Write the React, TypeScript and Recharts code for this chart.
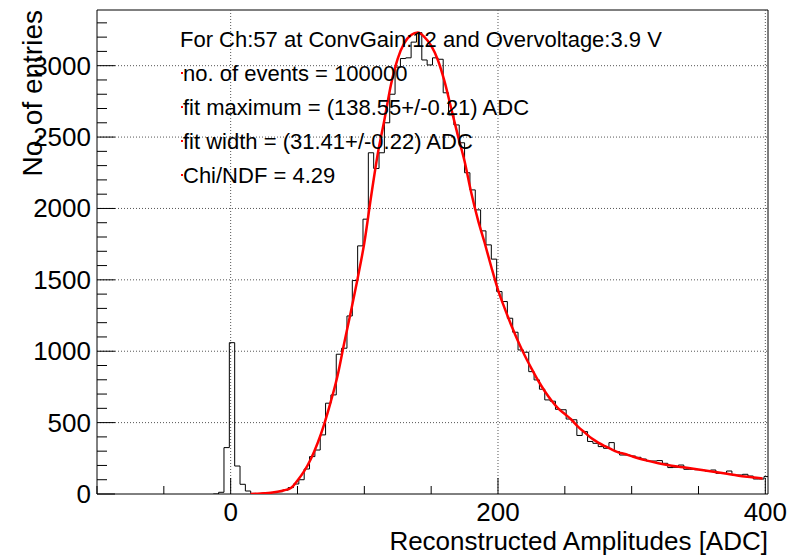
import React from 'react';
import { ComposedChart, Line, XAxis, YAxis, ReferenceLine, ReferenceArea } from 'recharts';

// histogram: 4 ADC bins, first low edge at -13
const binLowEdge = -13;
const binWidth = 4;
const xMax = 402;
const counts = [
  0, 12, 325, 1060, 196, 68, 21, 4, 3, 5, 7, 10, 16, 27, 45, 70, 100, 175, 262, 308,
  414, 636, 694, 979, 1021, 1247, 1495, 1738, 1925, 2390, 2280, 2390, 2600, 2800, 2990, 3050,
  3055, 3165, 3232, 3040, 3005, 3055, 3045, 2810, 2655, 2585, 2460, 2250, 2130, 1990, 1843,
  1745, 1645, 1418, 1348, 1231, 1133, 1009, 993, 857, 799, 734, 659, 650, 593, 590, 525, 520,
  410, 437, 368, 355, 332, 320, 360, 297, 273, 273, 266, 257, 245, 231, 231, 234, 215, 185,
  187, 203, 173, 173, 170, 166, 160, 168, 145, 145, 161, 133, 133, 138, 126, 105, 105, 122,
];

// fit curve
const fitX = [15, 20, 25, 30, 35, 40, 45, 50, 55, 60, 65, 70, 75, 80, 85, 90, 95, 100, 105, 110, 115, 120, 125, 130, 135, 140, 145, 150, 155, 160, 165, 170, 175, 180, 185, 190, 195, 200, 205, 210, 215, 220, 225, 230, 235, 240, 245, 250, 255, 260, 265, 270, 275, 280, 285, 290, 295, 300, 310, 320, 330, 340, 350, 360, 370, 380, 390, 398];
const fitY = [0, 2, 5, 9, 16, 26, 42, 95, 160, 245, 355, 490, 650, 830, 1060, 1280, 1510, 1760, 2080, 2380, 2620, 2870, 3050, 3160, 3215, 3232, 3200, 3140, 3040, 2890, 2700, 2510, 2330, 2110, 1920, 1760, 1590, 1430, 1300, 1180, 1070, 970, 880, 795, 720, 655, 600, 560, 520, 470, 430, 390, 360, 335, 312, 292, 280, 265, 237, 215, 198, 185, 172, 158, 143, 128, 117, 108];

const xTicks = [-100, -50, 0, 50, 100, 150, 200, 250, 300, 350, 400];
const xLabels = [0, 200, 400];
const yTicks = [0, 100, 200, 300, 400, 500, 600, 700, 800, 900, 1000, 1100, 1200, 1300, 1400, 1500, 1600, 1700, 1800, 1900, 2000, 2100, 2200, 2300, 2400, 2500, 2600, 2700, 2800, 2900, 3000, 3100, 3200, 3300];
const yLabels = [0, 500, 1000, 1500, 2000, 2500, 3000];
const yMax = 3390;

const infoLines = [
  'no. of events = 100000',
  'fit maximum = (138.55+/-0.21) ADC',
  'fit width = (31.41+/-0.22) ADC',
  'Chi/NDF = 4.29',
];

const FONT = '"Liberation Sans", Arial, Helvetica, sans-serif';

const histData = counts.map((c, i) => ({ x: binLowEdge + i * binWidth, y: c }));
histData.push({ x: xMax, y: counts[counts.length - 1] });
const fitData = fitX.map((x, i) => ({ x, y: fitY[i] }));

function XTick(props: any) {
  const { x, y, payload } = props;
  const major = xLabels.includes(payload.value);
  return (
    <g>
      <line x1={x} x2={x} y1={y} y2={y - (major ? 16 : 8)} stroke="#000" />
      {major && (
        <text x={x} y={y + 27} textAnchor="middle" fontSize={26} fontFamily={FONT} fill="#000">
          {payload.value}
        </text>
      )}
    </g>
  );
}

function YTick(props: any) {
  const { x, y, payload } = props;
  const major = yLabels.includes(payload.value);
  return (
    <g>
      <line x1={x} x2={x + (major ? 18 : 10)} y1={y} y2={y} stroke="#000" />
      {major && (
        <text x={x - 6} y={y + 9} textAnchor="end" fontSize={26} fontFamily={FONT} fill="#000">
          {payload.value}
        </text>
      )}
    </g>
  );
}

export default function App() {
  return (
    <div style={{ position: 'absolute', left: 0, top: 0, width: 790, height: 555, background: '#fff' }}>
      <ComposedChart width={790} height={555} margin={{ top: 10, right: 22, bottom: 0, left: 0 }}>
        <XAxis
          type="number"
          dataKey="x"
          domain={[-100, xMax]}
          allowDataOverflow
          ticks={xTicks}
          interval={0}
          height={61}
          tickSize={0}
          tickMargin={0}
          tickLine={false}
          axisLine={false}
          tick={<XTick />}
        />
        <YAxis
          type="number"
          domain={[0, yMax]}
          allowDataOverflow
          ticks={yTicks}
          interval={0}
          width={97}
          tickSize={0}
          tickMargin={0}
          tickLine={false}
          axisLine={false}
          tick={<YTick />}
        />
        {yLabels.filter(v => v > 0).map(v => (
          <ReferenceLine key={'gy' + v} y={v} stroke="#555" strokeDasharray="1 2" />
        ))}
        {xLabels.map(v => (
          <ReferenceLine key={'gx' + v} x={v} stroke="#555" strokeDasharray="1 2" />
        ))}
        <Line
          data={histData}
          dataKey="y"
          type="stepAfter"
          stroke="#000"
          strokeWidth={1}
          dot={false}
          activeDot={false}
          isAnimationActive={false}
        />
        <Line
          data={fitData}
          dataKey="y"
          type="monotone"
          stroke="#ff0000"
          strokeWidth={2.5}
          dot={false}
          activeDot={false}
          isAnimationActive={false}
        />
        <ReferenceArea x1={-100} x2={xMax} y1={0} y2={yMax} fill="none" stroke="#000" strokeWidth={1} />
      </ComposedChart>
      <svg width={790} height={555} style={{ position: 'absolute', left: 0, top: 0, pointerEvents: 'none' }}>
        <text x={180} y={47} fontSize={22} fontFamily={FONT} fill="#000">
          For Ch:57 at ConvGain:12 and Overvoltage:3.9 V
        </text>
        {infoLines.map((t, i) => (
          <g key={t}>
            <rect x={181} y={72 + i * 34} width={2} height={2} fill="#ff0000" />
            <text x={183} y={81 + i * 34} fontSize={22} fontFamily={FONT} fill="#000">
              {t}
            </text>
          </g>
        ))}
        <text x={768} y={550} textAnchor="end" fontSize={26} fontFamily={FONT} fill="#000">
          Reconstructed Amplitudes [ADC]
        </text>
        <text transform="translate(42,10) rotate(-90)" textAnchor="end" fontSize={28} fontFamily={FONT} fill="#000">
          No. of entries
        </text>
      </svg>
    </div>
  );
}
